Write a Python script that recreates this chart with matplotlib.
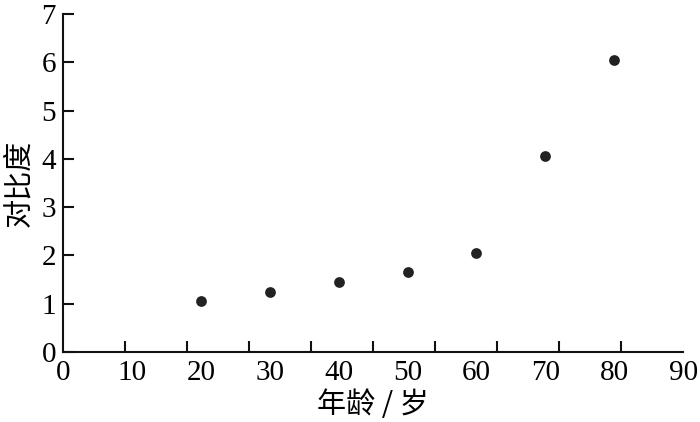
import numpy as np
import matplotlib
matplotlib.use("Agg")
import matplotlib.pyplot as plt

age = [20, 30, 40, 50, 60, 70, 80]
contrast = [1.05, 1.25, 1.45, 1.65, 2.05, 4.05, 6.05]
x_labels = [0, 10, 20, 30, 40, 50, 60, 70, 80, 90]
y_labels = [0, 1, 2, 3, 4, 5, 6, 7]

serif = ["Liberation Serif", "DejaVu Serif"]
cjk = ["Noto Sans CJK SC", "DejaVu Sans"]

fig = plt.figure(figsize=(7.0, 4.22), dpi=100)
ax = fig.add_axes([0.09, 0.166, 0.886, 0.801])

ax.scatter(age, contrast, s=60, color="#222222", zorder=3, linewidths=0)

ax.set_xlim(0, 90)
ax.set_ylim(0, 7)

ax.spines["top"].set_visible(False)
ax.spines["right"].set_visible(False)
for sp in ("left", "bottom"):
    ax.spines[sp].set_linewidth(1.5)
    ax.spines[sp].set_color("#111111")

# x labels without tick marks; tick marks drawn as minor ticks
ax.set_xticks(x_labels)
ax.set_xticklabels([str(v) for v in x_labels], fontfamily=serif, fontsize=21)
ax.tick_params(axis="x", which="major", length=0, pad=6)
ax.set_xticks(np.linspace(0, 90, 11), minor=True)
ax.tick_params(axis="x", which="minor", direction="in", length=8, width=1.5, color="#111111")

ax.set_yticks(y_labels)
ax.set_yticklabels([str(v) for v in y_labels], fontfamily=serif, fontsize=21)
ax.tick_params(axis="y", which="major", direction="in", length=8, width=1.5, color="#111111", pad=5)

ax.set_xlabel("年龄 / 岁", fontfamily=cjk, fontsize=21, labelpad=3)
ax.set_ylabel("对比度", fontfamily=cjk, fontsize=21, labelpad=5)

fig.savefig("out.png", dpi=100)
